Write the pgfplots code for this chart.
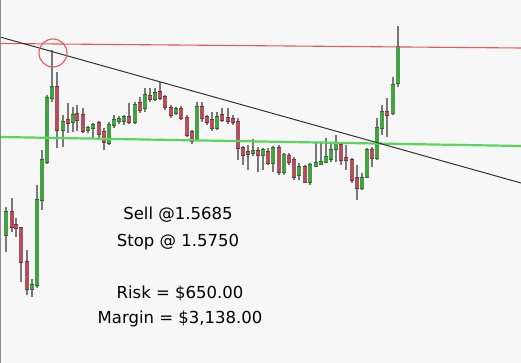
\documentclass[border=0pt]{standalone}
\usepackage{pgfplots}
\pgfplotsset{compat=1.18}
\usepackage{pgfplotstable}
\usepackage{fontspec}
\setmainfont{DejaVu Sans}
\definecolor{bgc}{RGB}{247,247,247}
\definecolor{cgreen}{RGB}{70,160,70}
\definecolor{cgreenE}{RGB}{40,110,40}
\definecolor{cred}{RGB}{178,80,92}
\definecolor{credE}{RGB}{120,50,60}
\definecolor{cwick}{RGB}{120,120,120}
\definecolor{gline}{RGB}{90,215,90}
\definecolor{rline}{RGB}{228,90,90}
\pgfplotstableread{
x bt bb wt wb
6 212 235 207 252
32 285 289 279 297
37 200 285 185 288
42 160 200 150 210
47 98 162 95 164
52 87 98 50 102
63 122 130 115 147
73 115 122 107 132
88 128 130 126 133
93 125 128 123 138
109 125 143 122 145
114 120 125 115 128
119 119 121 116 124
124 117 121 115 125
135 105 122 102 124
145 95 108 88 112
155 93 99 88 101
176 109 113 107 115
197 107 140 102 141
217 117 128 112 130
253 151 153 139 156
263 150 155 148 170
273 148 163 146 172
284 155 172 153 175
299 167 175 163 180
310 165 182 163 185
316 163 166 143 167
321 162 164 143 165
326 157 162 138 163
331 150 159 143 162
336 143 149 135 162
362 178 188 173 190
367 150 177 148 178
377 128 158 118 160
382 112 128 105 135
393 85 113 77 115
398 47 83 26 87
}\greentab
\pgfplotstableread{
x bt bb wt wb
12 212 227 198 232
16 225 228 218 237
21 228 262 227 282
27 262 289 250 295
57 87 130 72 148
68 120 123 103 133
77 114 120 105 131
83 115 131 108 133
99 123 134 121 140
104 132 142 128 150
129 117 122 103 124
140 103 110 97 113
150 96 99 88 102
160 92 98 82 100
165 97 107 95 110
171 108 115 105 118
181 109 118 106 120
187 118 135 115 137
192 132 141 130 144
202 107 118 102 122
207 117 122 115 125
212 120 128 112 131
222 115 120 108 122
228 118 121 108 124
233 119 122 115 125
238 122 148 118 160
243 148 155 146 165
248 152 154 145 170
258 151 155 147 172
268 152 163 148 165
279 148 172 145 175
289 156 162 153 165
294 160 177 157 180
305 167 182 165 183
341 145 160 143 165
346 158 160 145 170
352 160 180 158 183
357 178 188 165 200
372 150 158 147 167
387 112 115 98 137
}\redtab
\pgfplotsset{candle/.style={only marks, mark=*, mark size=0pt, mark options={draw=none, fill=none}, forget plot}}
\begin{document}
\begin{tikzpicture}
\begin{axis}[scale only axis, width=521pt, height=363pt,
  xmin=0, xmax=521, ymin=0, ymax=363, y dir=reverse,
  axis lines=none, clip=true,
  axis background/.style={fill=bgc}]
% wicks
\addplot[candle, error bars/.cd, y dir=both, y explicit, error mark=none,
  error bar style={line width=1.1pt, color=cwick}]
  table[x=x, y expr={(\thisrow{wt}+\thisrow{wb})/2}, y error expr={(\thisrow{wb}-\thisrow{wt})/2}] {\greentab};
\addplot[candle, error bars/.cd, y dir=both, y explicit, error mark=none,
  error bar style={line width=1.1pt, color=cwick}]
  table[x=x, y expr={(\thisrow{wt}+\thisrow{wb})/2}, y error expr={(\thisrow{wb}-\thisrow{wt})/2}] {\redtab};
% body outlines
\addplot[candle, error bars/.cd, y dir=both, y explicit, error mark=none,
  error bar style={line width=4.6pt, color=cgreenE}]
  table[x=x, y expr={(\thisrow{bt}+\thisrow{bb})/2}, y error expr={(\thisrow{bb}-\thisrow{bt})/2+0.6}] {\greentab};
\addplot[candle, error bars/.cd, y dir=both, y explicit, error mark=none,
  error bar style={line width=4.6pt, color=credE}]
  table[x=x, y expr={(\thisrow{bt}+\thisrow{bb})/2}, y error expr={(\thisrow{bb}-\thisrow{bt})/2+0.6}] {\redtab};
% bodies
\addplot[candle, error bars/.cd, y dir=both, y explicit, error mark=none,
  error bar style={line width=3.2pt, color=cgreen}]
  table[x=x, y expr={(\thisrow{bt}+\thisrow{bb})/2}, y error expr={(\thisrow{bb}-\thisrow{bt})/2}] {\greentab};
\addplot[candle, error bars/.cd, y dir=both, y explicit, error mark=none,
  error bar style={line width=3.2pt, color=cred}]
  table[x=x, y expr={(\thisrow{bt}+\thisrow{bb})/2}, y error expr={(\thisrow{bb}-\thisrow{bt})/2}] {\redtab};
% lines
\addplot[rline, line width=1.1pt] coordinates {(0,43.5) (521,48)};
\addplot[gline, line width=2.2pt] coordinates {(0,137) (521,146)};
\addplot[black!80, line width=1pt] coordinates {(0,37) (521,183)};
\addplot[only marks, mark=o, mark size=14pt, mark options={rline, line width=1.1pt}] coordinates {(53,53)};
\addplot[black!45, line width=1pt] coordinates {(0.6,0) (0.6,363)};
% text
\node[font=\fontsize{16.5}{18}\selectfont] at (axis cs:178,215) {Sell @1.5685};
\node[font=\fontsize{16.5}{18}\selectfont] at (axis cs:178,242) {Stop @ 1.5750};
\node[font=\fontsize{16.5}{18}\selectfont] at (axis cs:180,293) {Risk = \$650.00};
\node[font=\fontsize{16.5}{18}\selectfont] at (axis cs:180,319) {Margin = \$3,138.00};
\end{axis}
\end{tikzpicture}
\end{document}
